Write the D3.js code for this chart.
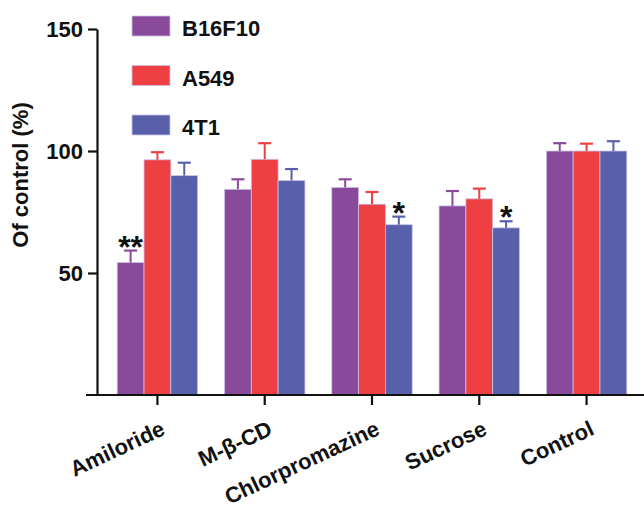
<!DOCTYPE html>
<html>
<head>
<meta charset="utf-8">
<script src="https://cdn.jsdelivr.net/npm/d3@7/dist/d3.min.js"></script>
<style>
  html, body { margin: 0; padding: 0; background: #fff; }
  svg { display: block; }
  text { font-family: "Liberation Sans", Arial, Helvetica, sans-serif; font-weight: bold; fill: #111; }
</style>
</head>
<body>
<svg id="chart" width="644" height="511"></svg>
<script>
const categories = ["Amiloride", "M-\u03B2-CD", "Chlorpromazine", "Sucrose", "Control"];
const seriesNames = ["B16F10", "A549", "4T1"];
const b16f10 = [54.3, 84.3, 85.1, 77.5, 100];
const b16f10Err = [4.9, 4.1, 3.3, 6.1, 3.2];
const a549 = [96.4, 96.6, 78.2, 80.4, 100];
const a549Err = [3.1, 6.6, 5.0, 4.2, 3.0];
const t41 = [89.9, 87.9, 69.8, 68.5, 100];
const t41Err = [5.3, 4.7, 3.3, 2.7, 4.0];
const yTicks = [50, 100, 150];
// significance marks: [category index, series index, label]
const marks = [[0, 0, "**"], [2, 2, "*"], [3, 2, "*"]];

const colors = ["#8A4A9B", "#EE4043", "#5860AC"];
const values = [b16f10, a549, t41];
const errors = [b16f10Err, a549Err, t41Err];

const svg = d3.select("#chart");

const x = d3.scaleBand().domain(categories).range([117.2, 626.8]).paddingInner(0.25).paddingOuter(0);
const xs = d3.scaleBand().domain(seriesNames).range([0, x.bandwidth()]).padding(0);
const y = d3.scaleLinear().domain([0, 150]).range([395, 29]);

const data = [];
categories.forEach((c, i) => {
  seriesNames.forEach((s, j) => {
    data.push({c, s, j, v: values[j][i], e: errors[j][i]});
  });
});

const g = svg.append("g");
g.selectAll("rect.bar").data(data).join("rect")
  .attr("class", "bar")
  .attr("x", d => x(d.c) + xs(d.s))
  .attr("width", xs.bandwidth())
  .attr("y", d => y(d.v))
  .attr("height", d => y(0) - y(d.v))
  .attr("fill", d => colors[d.j])
  .attr("stroke", "#c9c3e6")
  .attr("stroke-width", 0.8);

const capW = 13;
const cx = d => x(d.c) + xs(d.s) + xs.bandwidth() / 2;
g.selectAll("line.err").data(data).join("line")
  .attr("x1", cx).attr("x2", cx)
  .attr("y1", d => y(d.v))
  .attr("y2", d => y(d.v + d.e))
  .attr("stroke", d => colors[d.j])
  .attr("stroke-width", 2);
g.selectAll("line.cap").data(data).join("line")
  .attr("x1", d => cx(d) - capW / 2)
  .attr("x2", d => cx(d) + capW / 2)
  .attr("y1", d => y(d.v + d.e))
  .attr("y2", d => y(d.v + d.e))
  .attr("stroke", d => colors[d.j])
  .attr("stroke-width", 2.2);

marks.forEach(([ci, si, lab]) => {
  const v = values[si][ci] + errors[si][ci];
  svg.append("text")
    .attr("x", x(categories[ci]) + xs(seriesNames[si]) + xs.bandwidth() / 2)
    .attr("y", y(v) + 7)
    .attr("text-anchor", "middle")
    .style("font-size", "32px")
    .text(lab);
});

// y axis
const yAxis = svg.append("g").attr("transform", "translate(97,0)")
  .call(d3.axisLeft(y).tickValues(yTicks).tickSize(9).tickSizeOuter(0).tickPadding(5));
yAxis.select(".domain").attr("stroke", "#111").attr("stroke-width", 2.2);
yAxis.selectAll(".tick line").attr("stroke", "#111").attr("stroke-width", 2.2);
yAxis.selectAll(".tick text").style("font-size", "22px").attr("fill", "#111").attr("dy", "0.36em");

// x axis
svg.append("line").attr("x1", 86).attr("x2", 644).attr("y1", 395).attr("y2", 395)
  .attr("stroke", "#111").attr("stroke-width", 2.2);
const xAxis = svg.append("g").attr("transform", "translate(0,395)")
  .call(d3.axisBottom(x).tickSize(10).tickSizeOuter(0));
xAxis.select(".domain").remove();
xAxis.selectAll(".tick line").attr("stroke", "#111").attr("stroke-width", 2.2);
xAxis.selectAll(".tick text")
  .style("font-size", "22px")
  .attr("fill", "#111")
  .attr("text-anchor", "end")
  .attr("dy", null)
  .attr("y", null)
  .attr("transform", "translate(9,39) rotate(-25)");

// y label
svg.append("text")
  .attr("transform", "translate(28,175) rotate(-90)")
  .attr("text-anchor", "middle")
  .style("font-size", "22px")
  .text("Of control (%)");

// legend
const leg = svg.append("g");
seriesNames.forEach((s, j) => {
  const yy = 16 + j * 49.5;
  leg.append("rect").attr("x", 132).attr("y", yy).attr("width", 38).attr("height", 20)
    .attr("fill", colors[j]).attr("stroke", "#c9c3e6").attr("stroke-width", 0.8);
  leg.append("text").attr("x", 182).attr("y", yy + 20).style("font-size", "22px").text(s);
});
</script>
</body>
</html>
